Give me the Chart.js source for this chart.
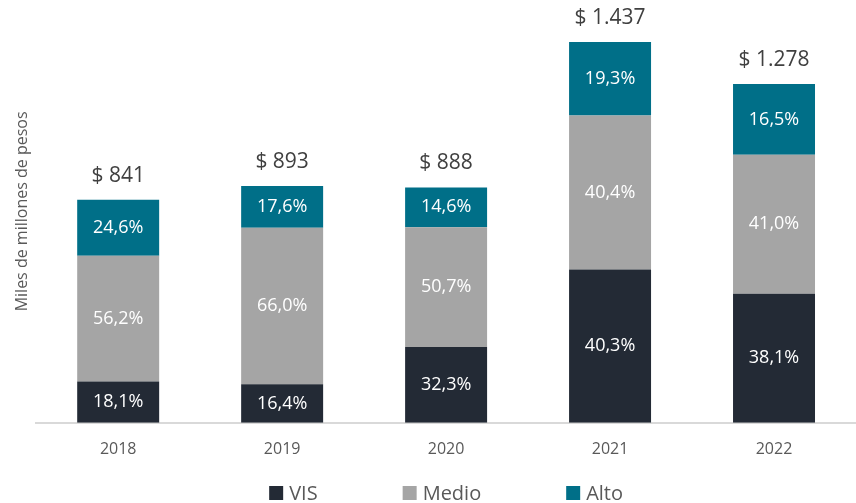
<!DOCTYPE html>
<html>
<head>
<meta charset="utf-8">
<script src="https://cdn.jsdelivr.net/npm/chart.js@4.4.1/dist/chart.umd.min.js"></script>
<style>
    html, body { margin: 0; padding: 0; background: #ffffff; }
    #wrap { width: 856px; height: 503px; }
</style>
</head>
<body>
<div id="wrap"><canvas id="chart"></canvas></div>
<script>
// Ventas por segmento (miles de millones de pesos)
const years = ['2018', '2019', '2020', '2021', '2022'];
const visValues = [156, 145, 286, 578, 487];
const medioValues = [474, 591, 452, 581, 524];
const altoValues = [211, 157, 150, 278, 267];
const totals = [841, 893, 888, 1437, 1278];

// Shares printed inside each segment
const visPct = ['18,1%', '16,4%', '32,3%', '40,3%', '38,1%'];
const medioPct = ['56,2%', '66,0%', '50,7%', '40,4%', '41,0%'];
const altoPct = ['24,6%', '17,6%', '14,6%', '19,3%', '16,5%'];

const FONT = "'Open Sans', sans-serif";
const COLORS = { vis: '#232a35', medio: '#a5a5a5', alto: '#006f88' };

function formatTotal(n) {
    return '$ ' + String(n).replace(/\B(?=(\d{3})+(?!\d))/g, '.');
}

/**
 * Percentages inside segments and totals above the bars
 */
const barLabels = {
    id: 'barLabels',
    afterDatasetsDraw(chart) {
        const ctx = chart.ctx;
        ctx.save();
        ctx.textAlign = 'center';
        ctx.textBaseline = 'middle';
        ctx.fillStyle = '#ffffff';
        ctx.font = '18px ' + FONT;
        chart.data.datasets.forEach((ds, di) => {
            const meta = chart.getDatasetMeta(di);
            meta.data.forEach((bar, i) => {
                ctx.fillText(ds.pctLabels[i], bar.x, (bar.y + bar.base) / 2);
            });
        });
        const topMeta = chart.getDatasetMeta(chart.data.datasets.length - 1);
        ctx.fillStyle = '#404040';
        ctx.font = '21px ' + FONT;
        ctx.textBaseline = 'alphabetic';
        topMeta.data.forEach((bar, i) => {
            ctx.fillText(formatTotal(totals[i]), bar.x, bar.y - 18);
        });
        ctx.restore();
    }
};

/**
 * Legend drawn under the axis, centred on the plot area
 */
const bottomLegend = {
    id: 'bottomLegend',
    afterDraw(chart) {
        const ctx = chart.ctx;
        const area = chart.chartArea;
        const box = 14, gap = 6, spacing = 85;
        ctx.save();
        ctx.font = '20px ' + FONT;
        ctx.textBaseline = 'middle';
        ctx.textAlign = 'left';
        const items = chart.data.datasets.map(ds => ({
            text: ds.label,
            color: ds.backgroundColor,
            w: box + gap + ctx.measureText(ds.label).width
        }));
        const total = items.reduce((a, it) => a + it.w, 0) + spacing * (items.length - 1);
        let x = (area.left + area.right) / 2 - total / 2;
        const y = chart.height - 10;
        items.forEach(it => {
            ctx.fillStyle = it.color;
            ctx.fillRect(x, y - box / 2, box, box);
            ctx.fillStyle = '#595959';
            ctx.fillText(it.text, x + box + gap, y + 1);
            x += it.w + spacing;
        });
        ctx.restore();
    }
};

new Chart(document.getElementById('chart'), {
    type: 'bar',
    data: {
        labels: years,
        datasets: [
            { label: 'VIS', data: visValues, backgroundColor: COLORS.vis, pctLabels: visPct },
            { label: 'Medio', data: medioValues, backgroundColor: COLORS.medio, pctLabels: medioPct },
            { label: 'Alto', data: altoValues, backgroundColor: COLORS.alto, pctLabels: altoPct }
        ]
    },
    options: {
        responsive: true,
        maintainAspectRatio: false,
        animation: false,
        layout: {
            padding: { left: 9, right: 0, top: 0, bottom: 27 }
        },
        datasets: {
            bar: { barPercentage: 0.5, categoryPercentage: 1 }
        },
        scales: {
            x: {
                stacked: true,
                grid: { display: false, drawTicks: false },
                border: { display: true, color: '#d9d9d9', width: 2 },
                ticks: {
                    padding: 17,
                    color: '#595959',
                    font: { family: FONT, size: 16 }
                }
            },
            y: {
                stacked: true,
                min: 0,
                max: 1595,
                grid: { display: false, drawTicks: false },
                border: { display: false },
                ticks: { display: false },
                title: {
                    display: true,
                    text: 'Miles de millones de pesos',
                    color: '#595959',
                    font: { family: FONT, size: 16 },
                    padding: { top: 4, bottom: 4 }
                }
            }
        },
        plugins: {
            legend: { display: false },
            tooltip: { enabled: false }
        }
    },
    plugins: [barLabels, bottomLegend]
});
</script>
</body>
</html>
